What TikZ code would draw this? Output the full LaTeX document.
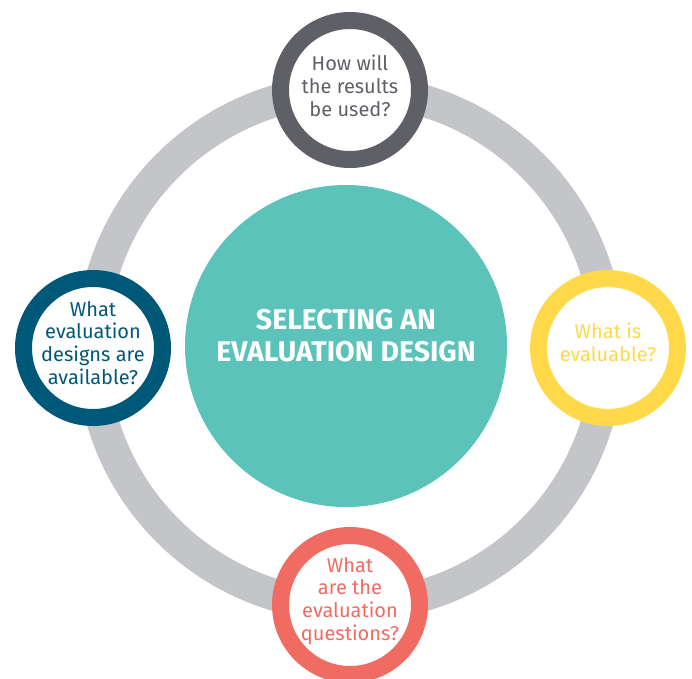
\documentclass[tikz,border=0pt]{standalone}
\usepackage{fontspec}
\setmainfont{Fira Sans}
\definecolor{ringgray}{HTML}{C4C5C8}
\definecolor{topgray}{HTML}{5E6066}
\definecolor{leftblue}{HTML}{005878}
\definecolor{rightyellow}{HTML}{FFD94A}
\definecolor{bottomcoral}{HTML}{F06B62}
\definecolor{centerteal}{HTML}{5BC3B9}
\tikzset{
  qcircle/.style={circle, draw=#1, fill=white, line width=17bp,
    minimum size=139bp, inner sep=0pt, outer sep=0pt},
  qtext/.style={text=#1, inner sep=0pt, align=center,
    font=\fontsize{20bp}{22.8bp}\selectfont},
  hub/.style={circle, fill=centerteal, minimum size=322bp, inner sep=0pt},
  hubtext/.style={text=white, inner sep=0pt, align=center,
    font=\fontsize{28.5bp}{32bp}\selectfont\bfseries}
}
\begin{document}
\begin{tikzpicture}[x=1bp,y=-1bp]
  \useasboundingbox (0,0) rectangle (692,679);
  \coordinate (ringc) at (350,348);
  \draw[ringgray, line width=32bp] (ringc) circle[radius=258bp];
  \node[hub] (hub) at (346,346) {};
  \node[hubtext] (hubtxt) at (346,336) {SELECTING AN\\EVALUATION DESIGN};
  \node[qcircle=topgray] (top) at (350,90) {};
  \node[qtext=topgray] (toptxt) at (350,86) {How will\\the results\\be used?};
  \node[qcircle=leftblue] (left) at (93,348) {};
  \node[qtext=leftblue] (lefttxt) at (93,343) {What\\evaluation\\designs are\\available?};
  \node[qcircle=rightyellow] (right) at (608,348) {};
  \node[qtext=rightyellow] (righttxt) at (608,342) {What is\\evaluable?};
  \node[qcircle=bottomcoral] (bottom) at (350,605) {};
  \node[qtext=bottomcoral] (bottomtxt) at (350,601) {What\\are the\\evaluation\\questions?};
\end{tikzpicture}
\end{document}
